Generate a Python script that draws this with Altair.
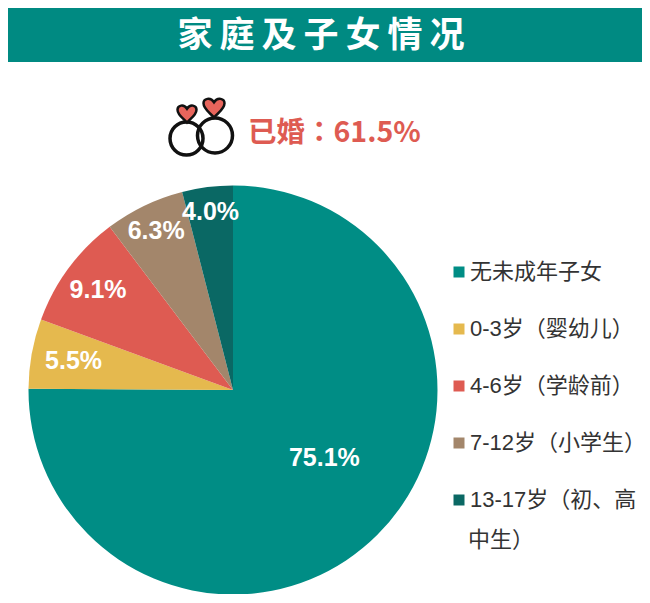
import altair as alt
import pandas as pd

categories = ["无未成年子女", "0-3岁（婴幼儿）", "4-6岁（学龄前）", "7-12岁（小学生）", "13-17岁（初、高中生）"]
shares = [75.1, 5.5, 9.1, 6.3, 4.0]
colors = ["#008D85", "#E5B94E", "#DE5B52", "#A3866B", "#0A6864"]
label_radius = [114, 162, 168, 177, 179]
label_dx = [11, 0, 0, 0, 0]
label_dy = [-13, 0, 0, 0, 0]

CJK = "Noto Sans CJK SC"
LATIN = "Liberation Sans, Noto Sans CJK SC"
CX, CY, R = 225, 382, 204.5

rows, run = [], 0.0
for i, (c, s) in enumerate(zip(categories, shares)):
    rows.append({"cat": c, "share": s, "idx": i, "mid": run + s / 2, "r": label_radius[i],
                 "txt": f"{s:.1f}%"})
    run += s
df = pd.DataFrame(rows)

theta_scale = alt.Scale(domain=[0, 100], range=[0, 6.283185307])
color = alt.Color("cat:N", scale=alt.Scale(domain=categories, range=colors), sort=categories,
                  legend=alt.Legend(title=None, orient="none", legendX=440, legendY=253,
                                    symbolType="square", symbolSize=121, symbolStrokeWidth=0,
                                    symbolOpacity=1, labelFont=LATIN, labelFontSize=22,
                                    labelColor="#333333", labelOffset=0, rowPadding=35,
                                    padding=0, labelLimit=220, columns=1,
                                    labelExpr="replace(datum.label, '中生）', '')"))

pie = alt.Chart(df).mark_arc(radius=R).encode(
    x=alt.value(CX), y=alt.value(CY),
    theta=alt.Theta("share:Q", stack=True, scale=theta_scale),
    order=alt.Order("idx:Q"), color=color,
)

labels = [
    alt.Chart(df.iloc[[i]]).mark_text(
        font="Liberation Sans", fontWeight="bold", fontSize=25, color="white",
        dx=label_dx[i], dy=label_dy[i],
    ).encode(
        x=alt.value(CX), y=alt.value(CY),
        theta=alt.Theta("mid:Q", stack=None, scale=theta_scale),
        radius=alt.Radius("r:Q", scale=None),
        text="txt:N",
    )
    for i in range(len(categories))
]

banner = alt.Chart(pd.DataFrame({"a": [0]})).mark_rect(color="#008A82").encode(
    x=alt.value(0), x2=alt.value(635), y=alt.value(0), y2=alt.value(54))
title = alt.Chart(pd.DataFrame({"t": ["家\u2009庭\u2009及\u2009子\u2009女\u2009情\u2009况"]})).mark_text(
    font=CJK, fontWeight="bold", fontSize=35, color="white", align="center", baseline="middle"
).encode(x=alt.value(313), y=alt.value(28), text="t:N")

married = alt.Chart(pd.DataFrame({"t": ["已婚：61.5%"]})).mark_text(
    font="Noto Sans CJK TC", fontWeight="bold", fontSize=28.5, color="#DE5B52", align="left", baseline="middle"
).encode(x=alt.value(240), y=alt.value(125), text="t:N")

second_line = alt.Chart(pd.DataFrame({"t": ["中生）"]})).mark_text(
    font=LATIN, fontSize=22, color="#333333", align="left", baseline="middle"
).encode(x=alt.value(460), y=alt.value(532), text="t:N")

ring = lambda x, y, d: alt.Chart(pd.DataFrame({"a": [0]})).mark_point(
    shape="circle", size=d * d, filled=False, stroke="#111111", strokeWidth=3.5, opacity=1
).encode(x=alt.value(x), y=alt.value(y))
HEART = "M0,1 C-0.4,0.55 -1,0.2 -1,-0.35 C-1,-0.8 -0.35,-1 0,-0.45 C0.35,-1 1,-0.8 1,-0.35 C1,0.2 0.4,0.55 0,1 Z"
heart = lambda x, y, d: alt.Chart(pd.DataFrame({"a": [0]})).mark_point(
    shape=HEART, size=d * d, filled=True, fill="#E8655C", stroke="#111111", strokeWidth=2.5, opacity=1
).encode(x=alt.value(x), y=alt.value(y))

chart = alt.layer(
    banner, title, ring(178.5, 130.5, 33), ring(207, 127.5, 35),
    heart(179, 105, 19), heart(206, 99, 21), married, pie, *labels, second_line,
).resolve_scale(theta="shared").properties(
    width=634, height=586, padding=0, autosize=alt.AutoSizeParams(type="none"),
    background="white",
).configure_view(stroke=None)

chart.save("out.html", embed_options={"renderer": "svg", "actions": False})
